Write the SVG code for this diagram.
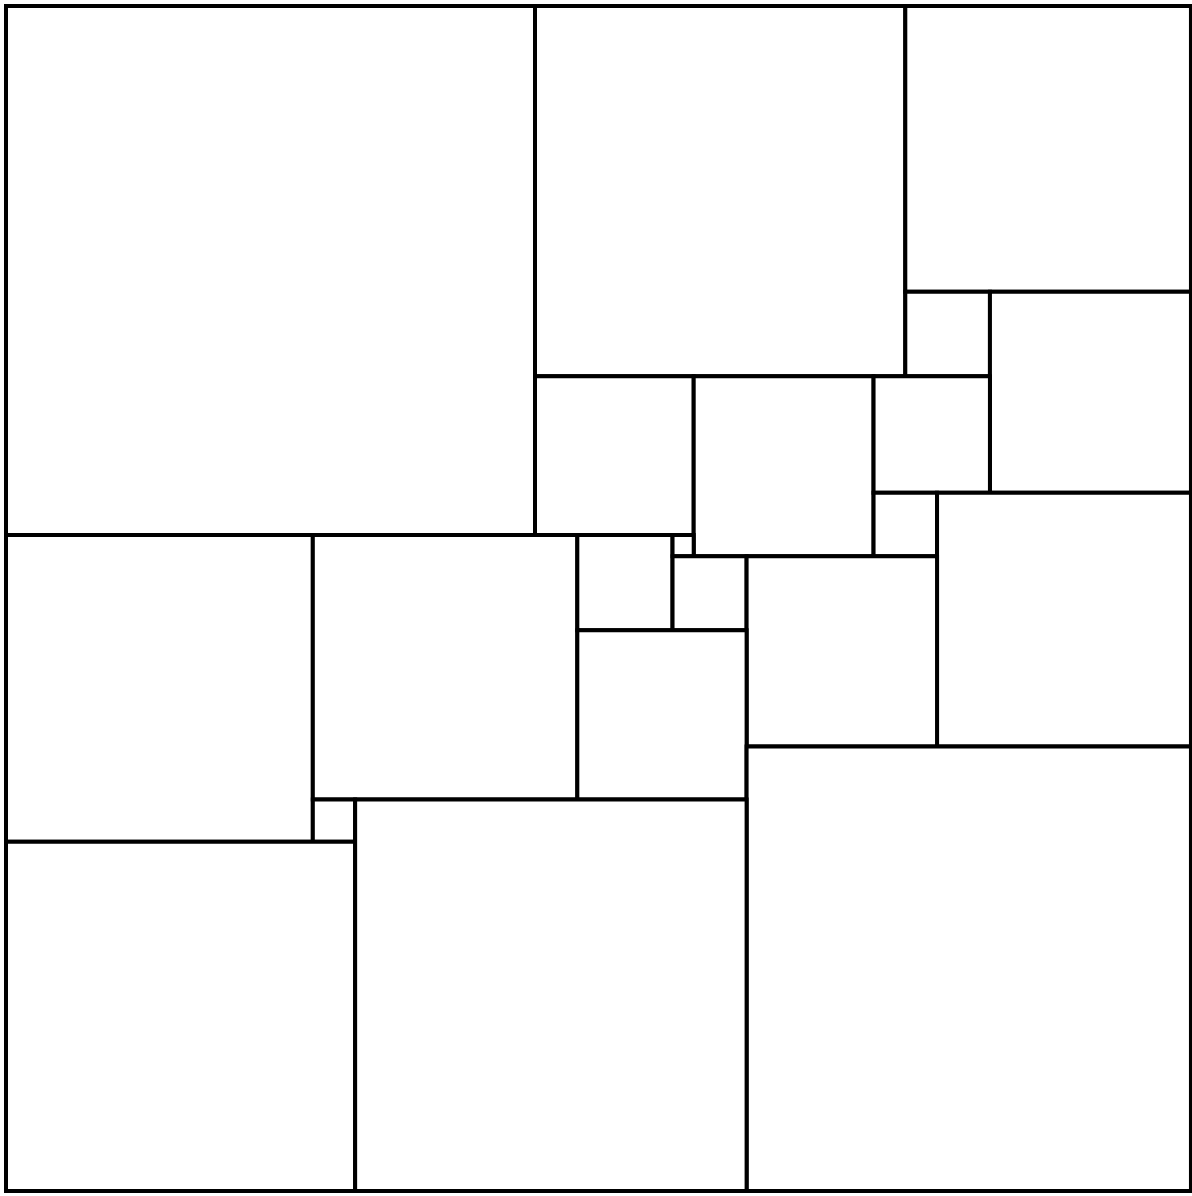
<svg xmlns="http://www.w3.org/2000/svg" width="1192" height="1196" viewBox="0 0 1192 1196">
<style>
rect.sq{fill:#fff;stroke:#000;stroke-width:4}
</style>
<rect width="1192" height="1196" fill="#fff"/>
<g transform="translate(6,6) scale(10.58)">
<g id="s50"><rect class="sq" x="0" y="0" width="50" height="50" vector-effect="non-scaling-stroke"/></g>
<g id="s35"><rect class="sq" x="50" y="0" width="35" height="35" vector-effect="non-scaling-stroke"/></g>
<g id="s27"><rect class="sq" x="85" y="0" width="27" height="27" vector-effect="non-scaling-stroke"/></g>
<g id="s8"><rect class="sq" x="85" y="27" width="8" height="8" vector-effect="non-scaling-stroke"/></g>
<g id="s19"><rect class="sq" x="93" y="27" width="19" height="19" vector-effect="non-scaling-stroke"/></g>
<g id="s15"><rect class="sq" x="50" y="35" width="15" height="15" vector-effect="non-scaling-stroke"/></g>
<g id="s17"><rect class="sq" x="65" y="35" width="17" height="17" vector-effect="non-scaling-stroke"/></g>
<g id="s11"><rect class="sq" x="82" y="35" width="11" height="11" vector-effect="non-scaling-stroke"/></g>
<g id="s6"><rect class="sq" x="82" y="46" width="6" height="6" vector-effect="non-scaling-stroke"/></g>
<g id="s24"><rect class="sq" x="88" y="46" width="24" height="24" vector-effect="non-scaling-stroke"/></g>
<g id="s29"><rect class="sq" x="0" y="50" width="29" height="29" vector-effect="non-scaling-stroke"/></g>
<g id="s25"><rect class="sq" x="29" y="50" width="25" height="25" vector-effect="non-scaling-stroke"/></g>
<g id="s9"><rect class="sq" x="54" y="50" width="9" height="9" vector-effect="non-scaling-stroke"/></g>
<g id="s2"><rect class="sq" x="63" y="50" width="2" height="2" vector-effect="non-scaling-stroke"/></g>
<g id="s7"><rect class="sq" x="63" y="52" width="7" height="7" vector-effect="non-scaling-stroke"/></g>
<g id="s18"><rect class="sq" x="70" y="52" width="18" height="18" vector-effect="non-scaling-stroke"/></g>
<g id="s16"><rect class="sq" x="54" y="59" width="16" height="16" vector-effect="non-scaling-stroke"/></g>
<g id="s42"><rect class="sq" x="70" y="70" width="42" height="42" vector-effect="non-scaling-stroke"/></g>
<g id="s4"><rect class="sq" x="29" y="75" width="4" height="4" vector-effect="non-scaling-stroke"/></g>
<g id="s33"><rect class="sq" x="0" y="79" width="33" height="33" vector-effect="non-scaling-stroke"/></g>
<g id="s37"><rect class="sq" x="33" y="75" width="37" height="37" vector-effect="non-scaling-stroke"/></g>
</g>
<g id="connectors"></g>
</svg>
